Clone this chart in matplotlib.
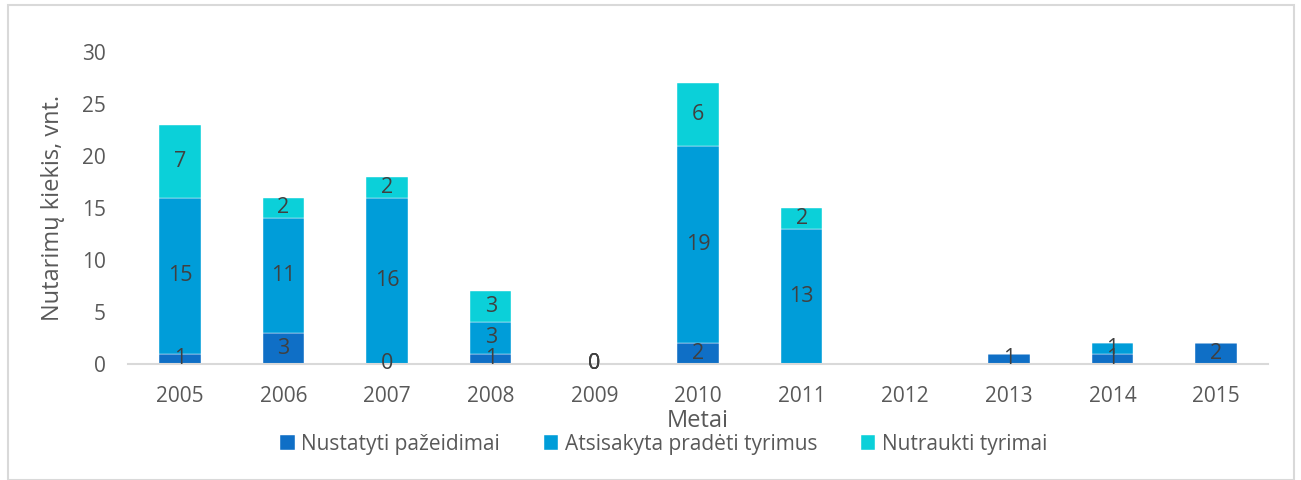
import numpy as np
import matplotlib
matplotlib.use("Agg")
import matplotlib.pyplot as plt
from matplotlib.patches import Rectangle

plt.rcParams['font.family'] = ['Open Sans', 'DejaVu Sans']

# Data (nan = no segment drawn)
years = ["2005", "2006", "2007", "2008", "2009", "2010",
         "2011", "2012", "2013", "2014", "2015"]
nustatyti = [1, 3, 0, 1, 0, 2, np.nan, np.nan, 1, 1, 2]
atsisakyta = [15, 11, 16, 3, 0, 19, 13, np.nan, np.nan, 1, np.nan]
nutraukti = [7, 2, 2, 3, 0, 6, 2, np.nan, np.nan, np.nan, np.nan]

series = [
    ("Nustatyti pažeidimai", nustatyti, "#0F6FC6"),
    ("Atsisakyta pradėti tyrimus", atsisakyta, "#009DD9"),
    ("Nutraukti tyrimai", nutraukti, "#0BD0D9"),
]
text_col = "#404040"

fig = plt.figure(figsize=(13.01, 4.8), dpi=100)
ax = fig.add_axes([0.0984, 0.2417, 0.8762, 0.65])

x = np.arange(len(years))
bottom = np.zeros(len(years))
for name, vals, col in series:
    v = np.array(vals, dtype=float)
    h = np.nan_to_num(v)
    ax.bar(x, h, width=0.4, bottom=bottom, color=col, label=name,
           edgecolor="white", linewidth=0.3)
    for xi, b, val in zip(x, bottom, v):
        if np.isnan(val):
            continue
        ax.text(xi, b + val / 2, f"{int(val)}", ha="center", va="center",
                fontsize=15.5, color=text_col)
    bottom += h

ax.set_xlim(-0.5, len(years) - 0.5)
ax.set_ylim(0, 30)
ax.set_yticks(range(0, 31, 5))
ax.set_xticks(x)
ax.set_xticklabels(years)
ax.tick_params(length=0, labelsize=15, labelcolor="#595959")
ax.tick_params(axis="y", pad=16)
ax.tick_params(axis="x", pad=16)
for s in ["top", "right", "left"]:
    ax.spines[s].set_visible(False)
ax.spines["bottom"].set_color("#d9d9d9")
ax.spines["bottom"].set_linewidth(1.5)

ax.set_ylabel("Nutarimų kiekis, vnt.", fontsize=17, color="#595959", labelpad=12)
ax.set_xlabel("Metai", fontsize=17, color="#595959", labelpad=1)

leg = ax.legend(loc="center", bbox_to_anchor=(0.47, -0.258), ncol=3,
                frameon=False, fontsize=15, handlelength=0.7, handleheight=0.7,
                handletextpad=0.3, columnspacing=2.1, labelcolor="#595959")

fig.patches.append(Rectangle((0.006, 0.0), 0.989, 0.99, transform=fig.transFigure,
                             fill=False, edgecolor="#d9d9d9", linewidth=1.5))

fig.savefig("out.png", dpi=100)
